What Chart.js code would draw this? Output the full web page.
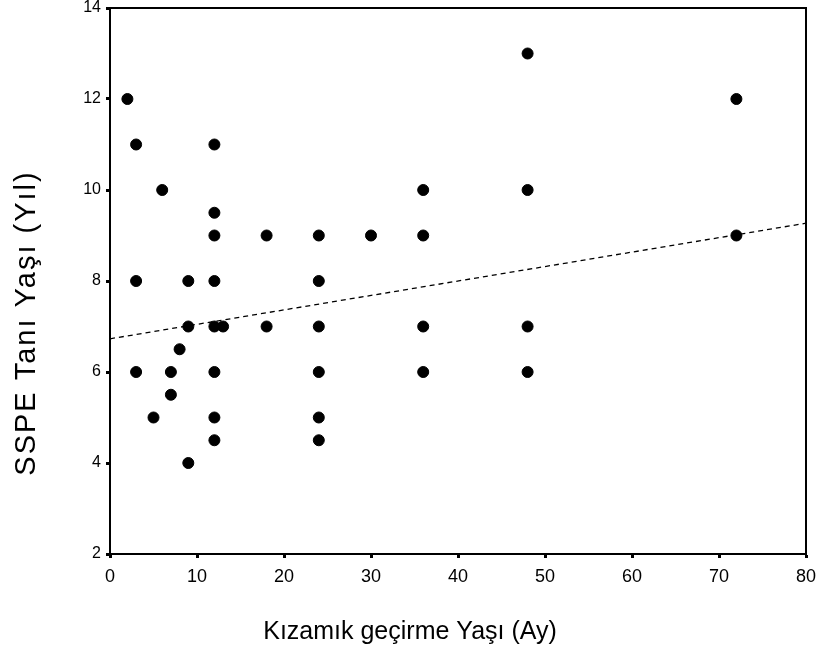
<!DOCTYPE html>
<html>
<head>
<meta charset="utf-8">
<script src="https://cdn.jsdelivr.net/npm/chart.js@4"></script>
<style>
  html, body { margin: 0; padding: 0; background: #fff; }
  #wrap { width: 820px; height: 656px; }
</style>
</head>
<body>
<div id="wrap"><canvas id="scatterChart"></canvas></div>
<script>
// Kızamık geçirme yaşı (ay) ve SSPE tanı yaşı (yıl)
const kizamikYasi = [2, 3, 3, 3, 5, 6, 7, 7, 8, 9, 9, 9,
    12, 12, 12, 12, 12, 12, 12, 12, 13, 18, 18,
    24, 24, 24, 24, 24, 24, 30, 36, 36, 36, 36,
    48, 48, 48, 48, 72, 72];
const taniYasi = [12, 11, 8, 6, 5, 10, 6, 5.5, 6.5, 8, 7, 4,
    11, 9.5, 9, 8, 7, 6, 5, 4.5, 7, 9, 7,
    9, 8, 7, 6, 5, 4.5, 9, 10, 9, 7, 6,
    13, 10, 7, 6, 12, 9];

// regresyon çizgisi (uç noktalar)
const trendX = [0, 80];
const trendY = [6.73, 9.27];

const xTicks = [0, 10, 20, 30, 40, 50, 60, 70, 80];
const yTicks = [2, 4, 6, 8, 10, 12, 14];

const xBaslik = 'Kızamık geçirme Yaşı (Ay)';
const yBaslik = 'SSPE Tanı Yaşı (Yıl)';

const points = kizamikYasi.map((x, i) => ({ x: x, y: taniYasi[i] }));
const trend = trendX.map((x, i) => ({ x: x, y: trendY[i] }));

// çerçeve ve eksen başlıkları (SPSS gibi sayfaya ortalı)
const boxPlugin = {
    id: 'boxPlugin',
    afterDraw(chart) {
        const a = chart.chartArea;
        const ctx = chart.ctx;
        ctx.save();
        ctx.strokeStyle = '#000';
        ctx.lineWidth = 2;
        ctx.strokeRect(a.left, a.top, a.right - a.left, a.bottom - a.top);

        ctx.fillStyle = '#000';
        ctx.textAlign = 'center';
        ctx.textBaseline = 'alphabetic';
        ctx.font = '25px "Liberation Sans"';
        ctx.fillText(xBaslik, chart.width / 2, chart.height - 17);

        ctx.translate(35, chart.height / 2 - 5);
        ctx.rotate(-Math.PI / 2);
        ctx.font = '29px "Liberation Sans"';
        ctx.letterSpacing = '2px';
        ctx.fillText(yBaslik, 0, 0);
        ctx.restore();
    }
};

const ctx = document.getElementById('scatterChart').getContext('2d');
new Chart(ctx, {
    type: 'scatter',
    data: {
        datasets: [{
            data: points,
            backgroundColor: '#000',
            borderColor: '#000',
            pointRadius: 5.5,
            pointHoverRadius: 5.5
        }, {
            type: 'line',
            data: trend,
            borderColor: '#000',
            borderWidth: 1.3,
            borderDash: [5, 4],
            pointRadius: 0,
            fill: false
        }]
    },
    options: {
        responsive: true,
        maintainAspectRatio: false,
        animation: false,
        layout: { padding: { left: 25, top: 8, right: 14, bottom: 6 } },
        plugins: {
            legend: { display: false },
            tooltip: { enabled: false }
        },
        scales: {
            x: {
                type: 'linear',
                min: 0,
                max: 80,
                afterBuildTicks: (s) => { s.ticks = xTicks.map(v => ({ value: v })); },
                afterFit: (s) => { s.height = 96; s.paddingLeft = 0; s.paddingRight = 0; },
                grid: { drawOnChartArea: false, tickLength: 4, tickWidth: 3, tickColor: '#000' },
                border: { color: '#000', width: 2 },
                ticks: { color: '#000', padding: 8, font: { family: 'Liberation Sans', size: 18 } }
            },
            y: {
                type: 'linear',
                min: 2,
                max: 14,
                afterBuildTicks: (s) => { s.ticks = yTicks.map(v => ({ value: v })); },
                afterFit: (s) => { s.width = 85; s.paddingTop = 0; s.paddingBottom = 0; },
                grid: { drawOnChartArea: false, tickLength: 4, tickWidth: 3, tickColor: '#000' },
                border: { color: '#000', width: 2 },
                ticks: { color: '#000', padding: 5, font: { family: 'Liberation Sans', size: 16 } }
            }
        }
    },
    plugins: [boxPlugin]
});
</script>
</body>
</html>
